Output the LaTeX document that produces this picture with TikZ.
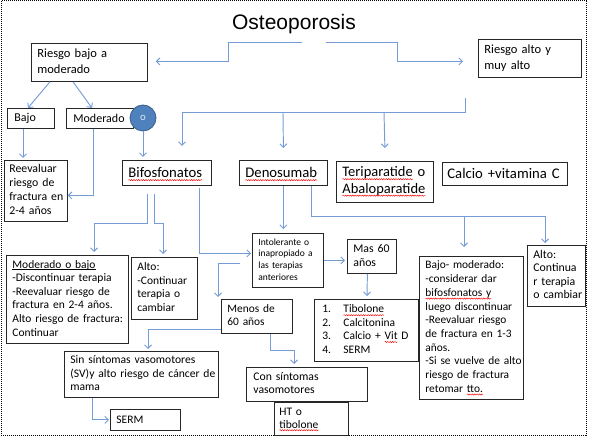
\documentclass[tikz,border=0pt]{standalone}
\usepackage{fontspec}
\setmainfont{Carlito}
\newfontfamily\titlefont{Liberation Sans}
\usetikzlibrary{arrows.meta,calc,decorations.pathmorphing}
\definecolor{cblue}{RGB}{118,156,214}
\definecolor{cfill}{RGB}{79,129,189}
\definecolor{cedge}{RGB}{56,93,138}
\newsavebox\spwbox
\newcommand\spw[1]{\sbox\spwbox{#1}\leavevmode\rlap{\usebox\spwbox}\tikz[baseline=0pt]{\useasboundingbox (0pt,0pt) rectangle (\wd\spwbox,0.1pt);\draw[red, line width=0.45pt, decorate, decoration={snake, amplitude=0.6pt, segment length=2.4pt}] (0pt,-2.2pt) -- (\wd\spwbox,-2.2pt);}}
\newcommand\uln[1]{\sbox\spwbox{#1}\leavevmode\rlap{\usebox\spwbox}\rule[-1.6pt]{\wd\spwbox}{0.6pt}}
\newcommand\tl[1]{\begin{tabular}{@{}l@{}}#1\end{tabular}}
\newcommand\fsz[2]{\fontsize{#1}{#2}\selectfont}
\tikzset{
  box/.style={draw=black!85, line width=0.8pt, fill=white, inner xsep=6pt, inner ysep=0pt,
    anchor=north west, align=left, font=\fsz{11.5}{13.6}},
  conn/.style={draw=cblue, line width=0.95pt, -{Straight Barb[length=3.5pt,width=7pt]}},
  frame/.style={draw=black, line width=1pt, dash pattern=on 1pt off 1pt}
}
\begin{document}
\begin{tikzpicture}[x=1pt,y=-1pt]
\useasboundingbox (0,0) rectangle (589,438);
\draw[frame] (1,1) rectangle (586,435);

\node[font=\titlefont\fsz{21}{25}, anchor=base, inner sep=0pt] (title) at (294,30) {Osteoporosis};

\node[box, minimum width=116pt, minimum height=38pt, text width=104pt, font=\fsz{12.5}{15.5}] (rbm) at (31,43) {\tl{Riesgo bajo a\\moderado}};
\node[box, minimum width=103pt, minimum height=38pt, text width=91pt, font=\fsz{12.5}{15.5}] (ram) at (478,39) {\tl{Riesgo alto y\\muy alto}};
\node[box, minimum width=47pt, minimum height=20pt, inner xsep=7pt, text width=33pt, font=\fsz{12}{14}] (bajo) at (7,108) {Bajo};
\node[box, minimum width=67pt, minimum height=20pt, inner xsep=7pt, text width=53pt, font=\fsz{12}{14}] (mod) at (66,108) {Moderado};
\node[circle, fill=cfill, draw=cedge, line width=0.8pt, minimum size=26pt, inner sep=0pt, text=white, font=\fsz{8}{9}] (circ) at (143,118) {O};

\node[box, minimum width=63pt, minimum height=61pt, inner xsep=5pt, text width=53pt, font=\fsz{11.8}{14}] (reev) at (4,160) {\tl{Reevaluar\\riesgo de\\fractura en\\2-4 años}};
\node[box, minimum width=89pt, minimum height=25pt, text width=77pt, font=\fsz{14.7}{17}] (bifo) at (122,160) {\spw{Bifosfonatos}};
\node[box, minimum width=88pt, minimum height=25pt, text width=76pt, font=\fsz{14.7}{17}] (deno) at (239,160) {\spw{Denosumab}};
\node[box, minimum width=97pt, minimum height=41pt, text width=85pt, font=\fsz{14.5}{16.5}] (teri) at (336,161) {\tl{\spw{Teriparatide} o\\\spw{Abaloparatide}}};
\node[box, minimum width=125pt, minimum height=23pt, inner xsep=5pt, text width=115pt, font=\fsz{14.7}{17}] (calc) at (442,162) {Calcio +vitamina C};

\node[box, minimum width=122pt, minimum height=88pt, text width=110pt] (mob) at (6,255) {\tl{\uln{Moderado o bajo}\\-Discontinuar terapia\\-Reevaluar riesgo de\\fractura en 2-4 años.\\Alto riesgo de fractura:\\Continuar}};
\node[box, minimum width=66pt, minimum height=62pt, text width=54pt] (altb) at (131,257) {\tl{Alto:\\-Continuar\\terapia o\\cambiar}};
\node[box, minimum width=71pt, minimum height=54pt, text width=59pt, font=\fsz{9.5}{11.7}] (into) at (252,233) {\tl{Intolerante o\\inapropiado a\\las terapias\\anteriores}};
\node[box, minimum width=49pt, minimum height=34pt, text width=37pt, font=\fsz{11.8}{14}] (mas60) at (347,239) {\tl{Mas 60\\años}};
\node[box, minimum width=104pt, minimum height=143pt, text width=92pt, font=\fsz{11.4}{13.7}] (bajm) at (419,256) {\tl{Bajo- moderado:\\-considerar dar\\\spw{bifosfonatos y}\\luego discontinuar\\-Reevaluar riesgo\\de fractura en 1-3\\años.\\-Si se vuelve de alto\\riesgo de fractura\\retomar \spw{tto.}}};
\node[box, minimum width=58pt, minimum height=61pt, text width=46pt, font=\fsz{11.8}{13.5}] (altc) at (527,245) {\tl{Alto:\\Continua\\r terapia\\o cambiar}};
\node[box, minimum width=71pt, minimum height=34pt, text width=59pt, font=\fsz{11.4}{13.5}] (men60) at (221,299) {\tl{Menos de\\60 años}};
\node[box, minimum width=104pt, minimum height=62pt, inner xsep=8pt, text width=88pt, font=\fsz{11.5}{13.4}] (list) at (314,299) {\tl{\makebox[21pt][l]{1.}\spw{Tibolone}\\\makebox[21pt][l]{2.}Calcitonina\\\makebox[21pt][l]{3.}Calcio + \spw{Vit} D\\\makebox[21pt][l]{4.}SERM}};
\node[box, minimum width=154pt, minimum height=46pt, text width=142pt, font=\fsz{11.6}{13.6}] (sin) at (64,351) {\tl{Sin síntomas vasomotores\\(SV)y alto riesgo de cáncer de\\mama}};
\node[box, minimum width=70pt, minimum height=21pt, text width=58pt] (serm) at (110,409) {SERM};
\node[box, minimum width=121pt, minimum height=34pt, inner xsep=7pt, text width=107pt, font=\fsz{11.7}{13.6}] (con) at (246,367) {\tl{Con síntomas\\vasomotores}};
\node[box, minimum width=74pt, minimum height=33pt, inner xsep=5pt, text width=64pt, font=\fsz{11.5}{13}] (ht) at (274,402) {\tl{HT o\\\spw{tibolone}}};

% connectors
\coordinate (tl) at (302,42);
\coordinate (tr) at (326,42);
\draw[conn] (tl) -- (228,42) |- ($(rbm.east)+(8,-1)$);
\draw[conn] (tr) -- (397,42) |- ($(ram.west)+(-15,3)$);
\draw[conn] ($(rbm.south west)+(19,0)$) -- ($(bajo.north)+(-3,0)$);
\draw[conn] ($(rbm.south west)+(42,0)$) -- ($(mod.north west)+(26,0)$);
\draw[conn] ($(bajo.south west)+(16,0)$) -- ($(reev.north west)+(19,-2)$);
\draw[conn] ($(mod.south west)+(27,0)$) |- ($(reev.east)+(0,4.5)$);
\draw[conn] (circ.south) -- ($(bifo.north west)+(21,-3)$);

\coordinate (ra) at (465,98);
\coordinate (j1) at (283,112);
\coordinate (j2) at (384,112);
\draw[conn] (ra) |- (182,112) -- ($(bifo.north west)+(60,-14)$);
\draw[conn] (j1) -- ($(deno.north)+(0,-12)$);
\draw[conn] (j2) -- ($(teri.north)+(0,-13)$);

\draw[conn] ($(bifo.south west)+(25,8)$) -- (147,223) -| ($(mob.north west)+(88,-3)$);
\draw[conn] ($(bifo.south west)+(32,8)$) -- (154,223) -| ($(altb.north west)+(32,-3)$);
\draw[conn] ($(bifo.south west)+(77,2)$) |- ($(into.west)+(-1,-7)$);

\draw[conn] (deno.south) -- ($(deno.south |- into.north)+(0,-4)$);
\coordinate (j3) at (464,216);
\draw[conn] ($(deno.south west)+(72,0)$) |- (545,216) -- ($(altc.north west)+(18,-2)$);
\draw[conn] (j3) -- ($(bajm.north west)+(45,-9)$);

\draw[conn] (into.east) -- ($(into.east -| mas60.west)+(-2,0)$);
\coordinate (ic) at (240,263);
\draw[conn] (ic) -| ($(men60.north west)+(-3,-2)$);
\draw[conn] ($(mas60.south)+(-4.5,0)$) -- ($(list.north west)+(53,-3)$);
\draw[conn] ($(men60.west)+(0,13)$) -| ($(sin.north west)+(84,-2)$);
\draw[conn] ($(men60.south west)+(49,0)$) -- (270,350) -| ($(con.north west)+(48,-3)$);
\draw[conn] ($(sin.south west)+(28,0)$) |- ($(serm.west)+(-1,0)$);
\end{tikzpicture}
\end{document}
